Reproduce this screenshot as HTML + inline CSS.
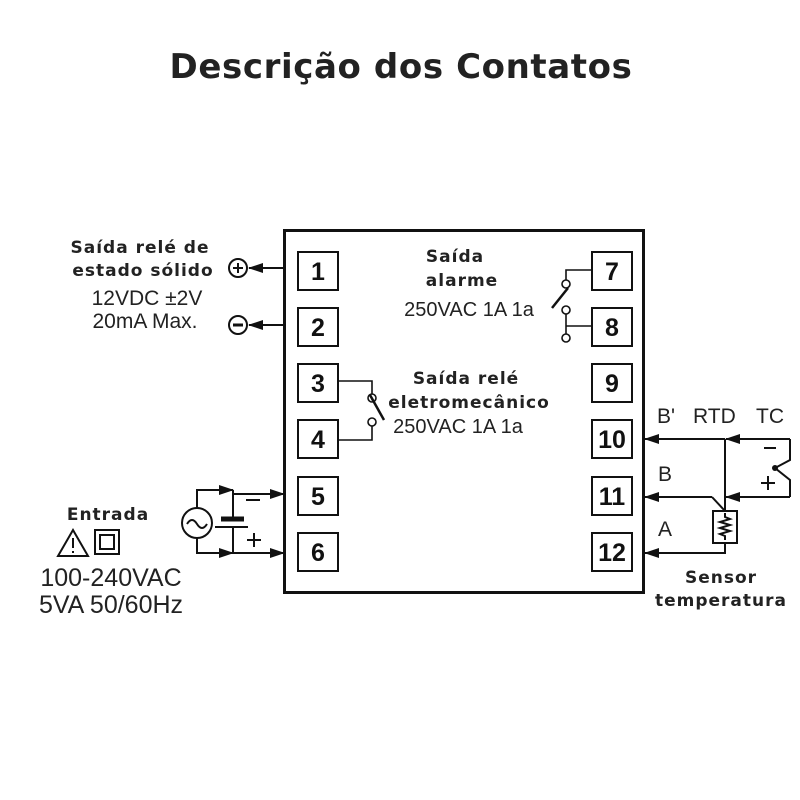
<!DOCTYPE html>
<html><head><meta charset="utf-8"><style>
html,body{margin:0;padding:0;background:#fff}
svg{display:block}
.b{font-family:"DejaVu Sans",sans-serif;font-weight:bold;fill:#222;letter-spacing:1px}
.r{font-family:"Liberation Sans",sans-serif;fill:#222}
.n{font-family:"Liberation Sans",sans-serif;font-weight:bold;font-size:25px;fill:#111;text-anchor:middle}
</style></head><body>
<svg width="800" height="800" viewBox="0 0 800 800" xmlns="http://www.w3.org/2000/svg">
<defs>
<marker id="ar" markerWidth="15" markerHeight="10" refX="14" refY="5" orient="auto" markerUnits="userSpaceOnUse"><path d="M0,0 L15,5 L0,10 Z" fill="#111"/></marker>
</defs>
<text x="401" y="78" class="b" font-size="34" text-anchor="middle" style="letter-spacing:0.6px">Descrição dos Contatos</text>

<rect x="284.5" y="230.5" width="359" height="362" fill="none" stroke="#111" stroke-width="3"/>
<g fill="none" stroke="#111" stroke-width="2">
<rect x="298" y="252" width="40" height="38"/><rect x="298" y="308" width="40" height="38"/>
<rect x="298" y="364" width="40" height="38"/><rect x="298" y="420" width="40" height="38"/>
<rect x="298" y="477" width="40" height="38"/><rect x="298" y="533" width="40" height="38"/>
<rect x="592" y="252" width="40" height="38"/><rect x="592" y="308" width="40" height="38"/>
<rect x="592" y="364" width="40" height="38"/><rect x="592" y="420" width="40" height="38"/>
<rect x="592" y="477" width="40" height="38"/><rect x="592" y="533" width="40" height="38"/>
</g>
<text x="318" y="280" class="n">1</text><text x="318" y="336" class="n">2</text>
<text x="318" y="392" class="n">3</text><text x="318" y="448" class="n">4</text>
<text x="318" y="505" class="n">5</text><text x="318" y="561" class="n">6</text>
<text x="612" y="280" class="n">7</text><text x="612" y="336" class="n">8</text>
<text x="612" y="392" class="n">9</text><text x="612" y="448" class="n">10</text>
<text x="612" y="505" class="n">11</text><text x="612" y="561" class="n">12</text>

<!-- left output -->
<text x="140" y="253" class="b" font-size="17" text-anchor="middle">Saída relé de</text>
<text x="143" y="276" class="b" font-size="17" text-anchor="middle">estado sólido</text>
<text x="147" y="305" class="r" font-size="21" text-anchor="middle">12VDC ±2V</text>
<text x="145" y="328" class="r" font-size="21" text-anchor="middle">20mA Max.</text>
<g stroke="#111" stroke-width="2" fill="none">
<line x1="284" y1="268" x2="249" y2="268" marker-end="url(#ar)"/>
<line x1="284" y1="325" x2="249" y2="325" marker-end="url(#ar)"/>
<circle cx="238" cy="268" r="9"/><circle cx="238" cy="325" r="9"/>
<line x1="233" y1="268" x2="243" y2="268"/><line x1="238" y1="263" x2="238" y2="273"/>
<line x1="233" y1="325" x2="243" y2="325" stroke-width="3"/>
</g>

<!-- alarm -->
<text x="455" y="262" class="b" font-size="17" text-anchor="middle">Saída</text>
<text x="462" y="286" class="b" font-size="17" text-anchor="middle">alarme</text>
<text x="469" y="316" class="r" font-size="20" text-anchor="middle">250VAC 1A 1a</text>
<g stroke="#111" stroke-width="1.6" fill="none">
<polyline points="592,270 566,270 566,280"/>
<circle cx="566" cy="284" r="4" fill="#fff"/>
<circle cx="566" cy="310" r="4" fill="#fff"/>
<polyline points="566,314 566,334"/>
<line x1="566" y1="326" x2="592" y2="326"/>
<circle cx="566" cy="338" r="4" fill="#fff"/>
<line x1="552" y1="308" x2="568" y2="288" stroke-width="2.5"/>
</g>

<!-- relay -->
<text x="466" y="384" class="b" font-size="17" text-anchor="middle">Saída relé</text>
<text x="469" y="408" class="b" font-size="17" text-anchor="middle">eletromecânico</text>
<text x="458" y="433" class="r" font-size="20" text-anchor="middle">250VAC 1A 1a</text>
<g stroke="#111" stroke-width="1.6" fill="none">
<polyline points="338,381 372,381 372,394"/>
<circle cx="372" cy="398" r="4" fill="#fff"/>
<circle cx="372" cy="422" r="4" fill="#fff"/>
<polyline points="372,426 372,440 338,440"/>
<line x1="370" y1="395" x2="384" y2="420" stroke-width="2.5"/>
</g>

<!-- input -->
<text x="108" y="520" class="b" font-size="17" text-anchor="middle">Entrada</text>
<g stroke="#111" stroke-width="2" fill="none">
<path d="M73,556 L58,556 L73,530 L88,556 Z"/>
<line x1="73" y1="538" x2="73" y2="548"/><line x1="73" y1="551" x2="73" y2="553"/>
<rect x="95" y="530" width="24" height="24"/><rect x="100" y="535" width="14" height="14"/>
</g>
<text x="111" y="586" class="r" font-size="25" text-anchor="middle">100-240VAC</text>
<text x="111" y="613" class="r" font-size="25" text-anchor="middle">5VA 50/60Hz</text>
<g stroke="#111" stroke-width="2" fill="none">
<circle cx="197" cy="523" r="15"/>
<path d="M187,524 q5,-8 10,0 t10,0"/>
<polyline points="197,508 197,490 233,490" marker-end="url(#ar)"/>
<line x1="233" y1="494" x2="284" y2="494" marker-end="url(#ar)"/>
<line x1="233" y1="490" x2="233" y2="494"/>
<polyline points="197,538 197,553 233,553" marker-end="url(#ar)"/>
<line x1="233" y1="553" x2="284" y2="553" marker-end="url(#ar)"/>
<line x1="233" y1="494" x2="233" y2="517"/>
<line x1="233" y1="527" x2="233" y2="553"/>
<line x1="221" y1="519" x2="244" y2="519" stroke-width="5"/>
<line x1="215" y1="527" x2="248" y2="527"/>
<line x1="246" y1="500" x2="260" y2="500"/>
<line x1="247" y1="540" x2="261" y2="540"/><line x1="254" y1="533" x2="254" y2="547"/>
</g>

<!-- sensor -->
<text x="657" y="423" class="r" font-size="21">B'</text>
<text x="693" y="423" class="r" font-size="21">RTD</text>
<text x="756" y="423" class="r" font-size="21">TC</text>
<text x="658" y="481" class="r" font-size="21">B</text>
<text x="658" y="536" class="r" font-size="21">A</text>
<g stroke="#111" stroke-width="2" fill="none">
<line x1="725" y1="439" x2="645" y2="439" marker-end="url(#ar)"/>
<line x1="790" y1="439" x2="726" y2="439" marker-end="url(#ar)"/>
<polyline points="790,439 790,460 775,468 790,480 790,497"/>
<line x1="790" y1="497" x2="726" y2="497" marker-end="url(#ar)"/>
<line x1="725" y1="439" x2="725" y2="511"/>
<polyline points="712,497 712,497 645,497" marker-end="url(#ar)"/>
<polyline points="712,497 725,511"/>
<rect x="713" y="511" width="24" height="32"/>
<polyline points="725,513 725,517 730,519 720,522 730,525 720,528 730,531 720,534 725,536 725,540"/>
<polyline points="725,543 725,553 645,553" marker-end="url(#ar)"/>
<line x1="764" y1="448" x2="776" y2="448"/>
<line x1="761" y1="483" x2="775" y2="483"/><line x1="768" y1="476" x2="768" y2="490"/>
</g>
<circle cx="775" cy="468" r="3" fill="#111"/>
<text x="721" y="583" class="b" font-size="17" text-anchor="middle">Sensor</text>
<text x="721" y="606" class="b" font-size="17" text-anchor="middle">temperatura</text>
</svg>
</body></html>
